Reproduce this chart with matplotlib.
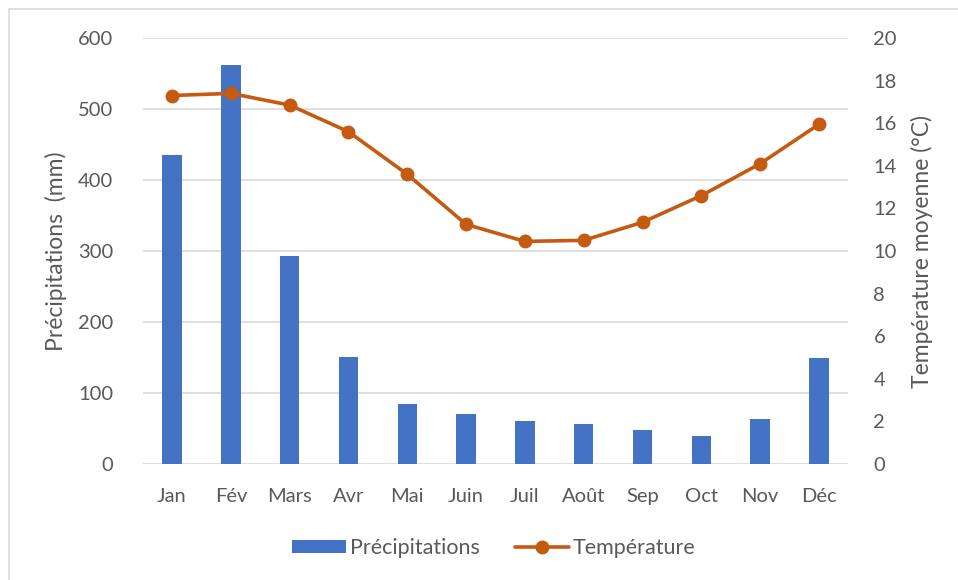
import numpy as np
import matplotlib.pyplot as plt
from matplotlib.patches import Rectangle

# Données climatiques mensuelles
mois = ["Jan", "Fév", "Mars", "Avr", "Mai", "Juin", "Juil", "Août", "Sep", "Oct", "Nov", "Déc"]
precipitations = [435, 562, 293, 151, 85, 71, 61, 57, 48, 40, 63, 149]
temperature = [17.3, 17.4, 16.85, 15.6, 13.6, 11.25, 10.45, 10.5, 11.35, 12.6, 14.1, 15.95]

plt.rcParams['font.family'] = ['Lato', 'DejaVu Sans']
gris = "#595959"

fig = plt.figure(figsize=(9.58, 5.8), dpi=100)
ax = fig.add_axes([142.6 / 958, 1 - 464 / 580, (848.4 - 142.6) / 958, 426 / 580])
ax2 = ax.twinx()

x = np.arange(len(mois))
ax.bar(x, precipitations, width=0.33, color="#4472C4", label="Précipitations", zorder=2)
ax2.plot(x, temperature, color="#C55A11", lw=2.6, marker="o", ms=9, label="Température",
         solid_capstyle="round")

ax.set_xlim(-0.5, len(mois) - 0.5)
ax.set_ylim(0, 600)
ax.set_yticks(range(0, 601, 100))
ax2.set_ylim(0, 20)
ax2.set_yticks(range(0, 21, 2))
ax.set_xticks(x)
ax.set_xticklabels(mois)

ax.grid(axis="y", color="#D9D9D9", lw=1.2, zorder=0)
ax.set_axisbelow(True)
for a in (ax, ax2):
    for s in a.spines.values():
        s.set_visible(False)
    a.tick_params(length=0, labelsize=14.5, colors=gris)
ax.tick_params(axis="y", pad=21)
ax.tick_params(axis="x", pad=17)
ax2.tick_params(axis="y", pad=18)

ax.set_ylabel("Précipitations  (mm)", fontsize=16.5, color=gris, labelpad=8)
ax2.set_ylabel("Température moyenne (°C)", fontsize=16.5, color=gris, labelpad=10)

h1, l1 = ax.get_legend_handles_labels()
h2, l2 = ax2.get_legend_handles_labels()
fig.legend(h1 + h2, l1 + l2, loc="center", bbox_to_anchor=(494 / 958, 1 - 548 / 580), ncol=2,
           frameon=False, fontsize=15.5, labelcolor=gris, handlelength=2.5, handleheight=0.55,
           handletextpad=0.2, columnspacing=1.6)

# Cadre du graphique
fig.patches.append(Rectangle((9 / 958, -0.1), 1.2, 1 - 9 / 580 + 0.1, transform=fig.transFigure,
                             fill=False, edgecolor="#D9D9D9", lw=1.2))

fig.savefig("out.png", dpi=100)
